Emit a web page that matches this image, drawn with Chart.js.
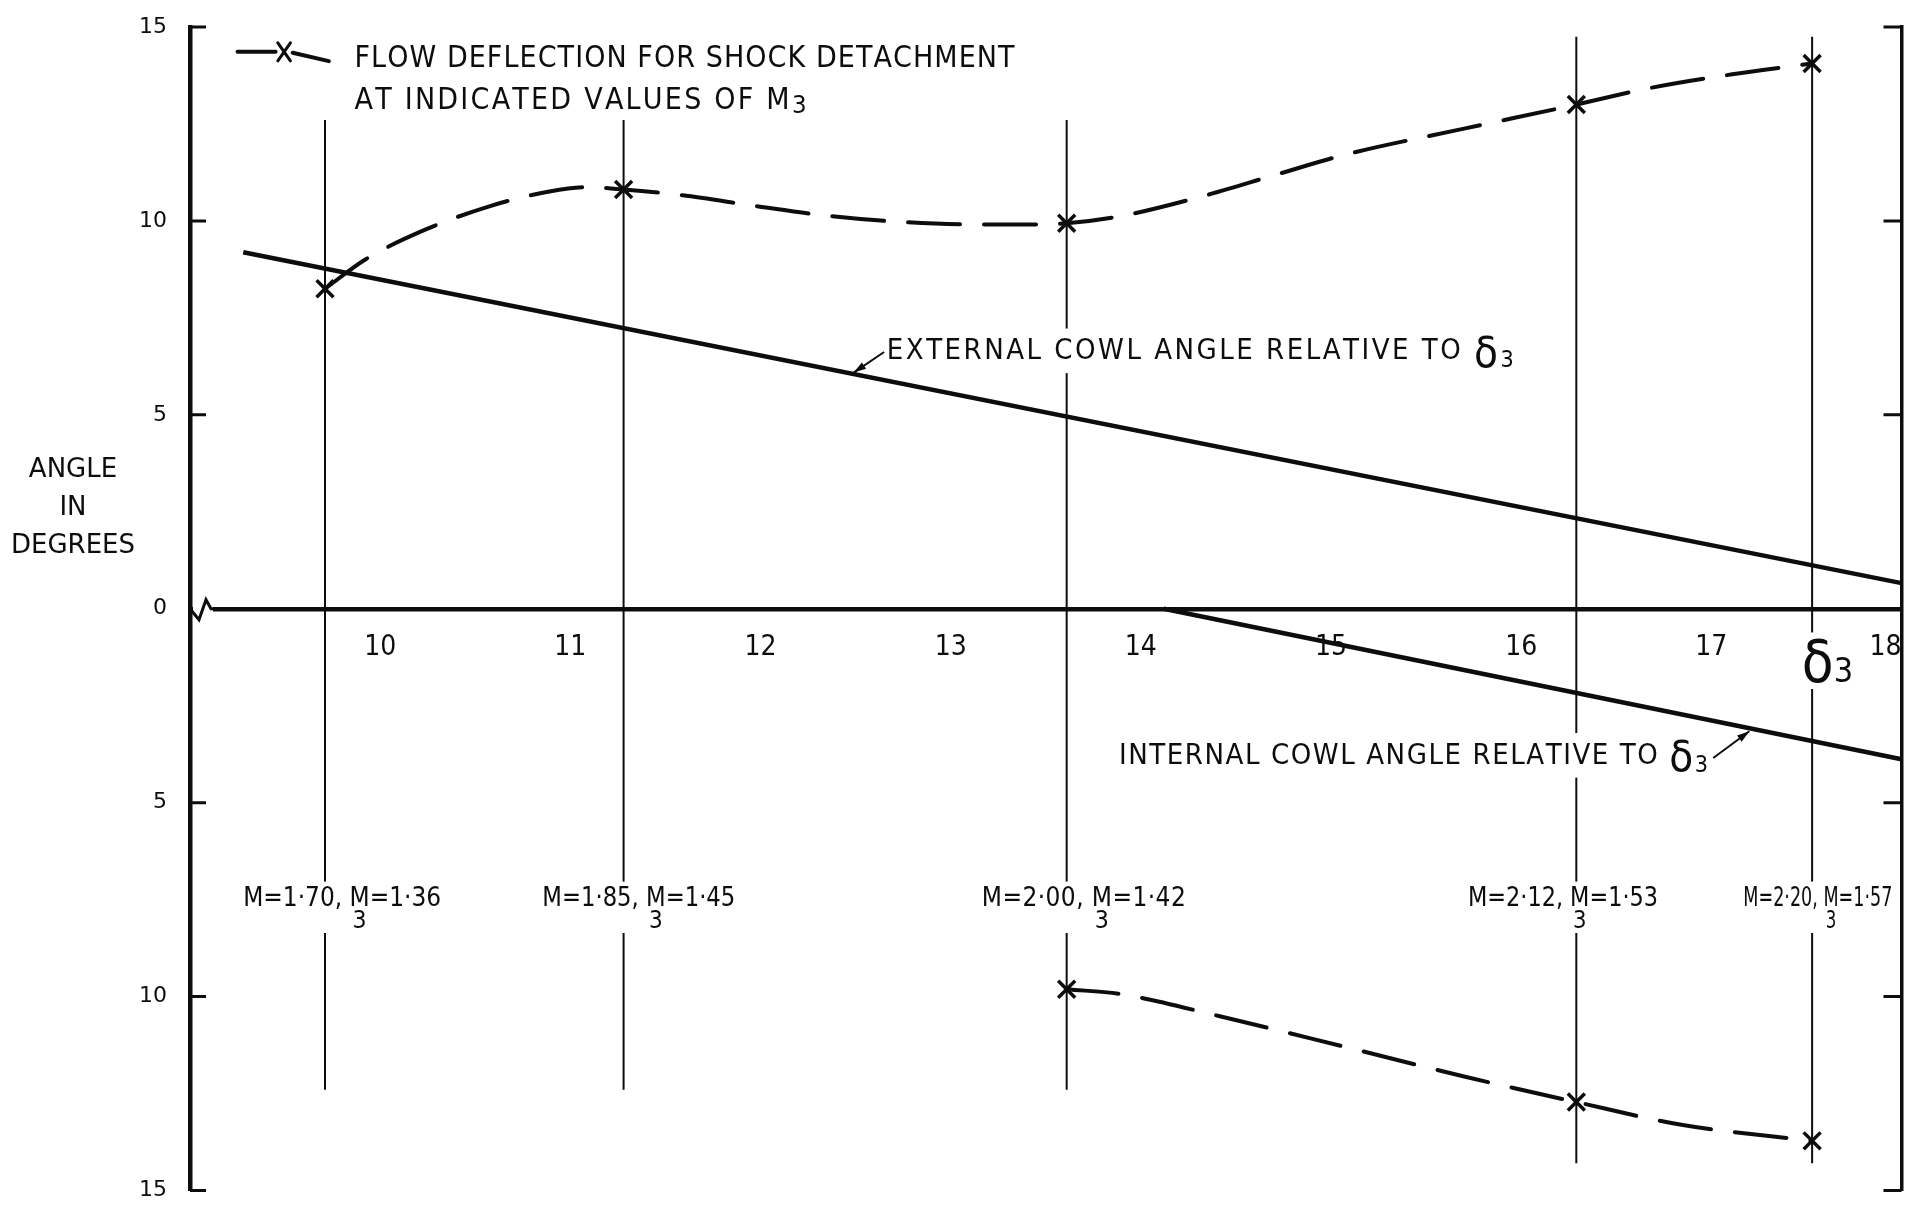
<!DOCTYPE html>
<html lang="en">
<head>
<meta charset="UTF-8" />
<title>Cowl angles and flow deflection for shock detachment</title>
<script src="https://cdn.jsdelivr.net/npm/chart.js"></script>
<style>
  html, body { margin: 0; padding: 0; background: #fff; overflow: hidden; }
  #wrap { width: 1917px; height: 1206px; }
</style>
</head>
<body>
<div id="wrap"><canvas id="chart"></canvas></div>
<script>
// ---- values (x = horizontal scale, y = angle in degrees, below axis negative) ----
const externalX = [9.28, 18.0];
const externalY = [9.19, 0.66];

const internalX = [14.12, 18.0];
const internalY = [0.0, -3.88];

// stations where the shock detachment was worked out
const stationX = [9.71, 11.28, 13.61, 16.29, 17.53];
const stationTop = [12.6, 12.6, 12.6, 14.75, 14.75];
const stationBottom = [-12.4, -12.4, -12.4, -14.3, -14.3];
const machFree = ['1·70', '1·85', '2·00', '2·12', '2·20'];
const machM3 = ['1·36', '1·45', '1·42', '1·53', '1·57'];

// x marks: flow deflection for shock detachment
const upperMarkY = [8.25, 10.81, 9.94, 13.0, 14.06];
const lowerMarkX = [13.61, 16.29, 17.53];
const lowerMarkY = [-9.81, -12.72, -13.72];

// dashed curves through the marks
const upperCurveX = [9.71, 9.92, 10.24, 10.57, 10.89, 11.08, 11.28, 11.59, 11.98, 12.36, 12.75, 13.13, 13.45, 13.61, 13.90, 14.29, 14.73, 15.06, 15.70, 16.29, 16.66, 17.11, 17.53];
const upperCurveY = [8.25, 9.0, 9.78, 10.37, 10.76, 10.87, 10.81, 10.66, 10.38, 10.13, 9.97, 9.91, 9.91, 9.94, 10.13, 10.59, 11.22, 11.69, 12.38, 13.0, 13.41, 13.78, 14.06];
const lowerCurveX = [13.61, 13.90, 14.41, 15.06, 15.70, 16.29, 16.85, 17.53];
const lowerCurveY = [-9.81, -9.94, -10.5, -11.28, -12.06, -12.72, -13.31, -13.72];

const xMin = 9, xMax = 18, yMin = -15, yMax = 15, yStep = 5;

// ---- styling ----
const INK = '#0d0d0d';
const LETTER = "'Liberation Sans Narrow', 'DejaVu Sans Condensed', 'DejaVu Sans', sans-serif";
const ROUND = "'DejaVu Sans', sans-serif";

const stationLabelX = [9.80, 11.36, 13.70, 16.22, 17.56];
const stationLabelW = [198, 193, 204, 190, 149];
const stationLabelY = -7.42;

const notes = [
  { parts: [['FLOW DEFLECTION FOR SHOCK DETACHMENT']], x: 9.865, y: 14.26, size: 30, width: 660 },
  { parts: [['AT INDICATED VALUES OF M'], ['3', 'sub']], x: 9.865, y: 13.18, size: 30, width: 452, subScale: 0.85, subDrop: 0.22 },
  { parts: [['EXTERNAL COWL ANGLE RELATIVE TO '], ['δ', 'greek'], ['3', 'sub']], x: 12.664, y: 6.71, size: 29, width: 627, bg: true },
  { parts: [['INTERNAL COWL ANGLE RELATIVE TO '], ['δ', 'greek'], ['3', 'sub']], x: 13.885, y: -3.72, size: 29, width: 589, bg: true },
  { parts: [['δ', 'greek'], ['3', 'sub']], x: 17.476, y: -1.27, size: 34, greekScale: 1.7, subScale: 1.0, subDrop: 0.35, bg: true }
];

const arrows = [
  { from: [12.65, 6.62], to: [12.49, 6.09] },
  { from: [17.01, -3.85], to: [17.20, -3.16] }
];

const zip = (xs, ys) => xs.map((x, i) => ({ x, y: ys[i] }));

// lettering: glyphs spread (or squeezed) to a given width; 'sub' is a subscript,
// 'under' is a small figure set below the previous letter. py is the centre of the capitals.
function drawNote(ctx, n, px, py) {
  const s = n.size;
  const glyphs = [];
  n.parts.forEach(([text, kind]) => {
    let size = s, dy = 0;
    if (kind === 'sub' || kind === 'under') { size = s * (n.subScale || 0.8); dy = s * (n.subDrop ?? 0.35); }
    if (kind === 'greek') { size = s * (n.greekScale || 1.5); dy = s * 0.08; }
    const font = `${size}px ${LETTER}`;
    ctx.font = font;
    for (const ch of text) glyphs.push({ ch, font, dy, size, under: kind === 'under', w: ctx.measureText(ch).width });
  });
  const flow = glyphs.filter(g => !g.under);
  const raw = flow.reduce((a, g) => a + g.w, 0);
  let gap = 0, sx = 1;
  if (n.width && flow.length > 1) {
    gap = (n.width - raw) / (flow.length - 1);
    if (gap < 0) { gap = 0; sx = n.width / raw; }
  }
  const total = n.width || raw;
  const x0 = n.align === 'center' ? px - total / 2 : px;
  ctx.save();
  if (n.bg) {
    const top = Math.min(...glyphs.map(g => g.dy - g.size * 0.42));
    const bot = Math.max(...glyphs.map(g => g.dy + g.size * 0.42));
    ctx.fillStyle = '#fff';
    ctx.fillRect(x0 - 6, py + top - 4, total + 12, bot - top + 8);
  }
  ctx.fillStyle = INK;
  ctx.textBaseline = 'alphabetic';
  ctx.textAlign = 'left';
  let cx = x0, lastX = x0, lastW = 0;
  glyphs.forEach(g => {
    ctx.font = g.font;
    const gx = g.under ? lastX + (lastW - g.w * sx) / 2 : cx;
    ctx.save();
    ctx.translate(gx, py + g.dy + g.size * 0.365);
    ctx.scale(sx, 1);
    ctx.fillText(g.ch, 0, 0);
    ctx.restore();
    if (!g.under) {
      lastX = cx; lastW = g.w * sx;
      cx += g.w * sx + gap;
    }
  });
  ctx.restore();
}

function drawCross(ctx, x, y, r) {
  ctx.beginPath();
  ctx.moveTo(x - r * 0.7, y - r);
  ctx.lineTo(x + r * 0.7, y + r);
  ctx.moveTo(x + r * 0.7, y - r);
  ctx.lineTo(x - r * 0.7, y + r);
  ctx.stroke();
}

const annotate = {
  id: 'annotate',
  afterDatasetsDraw(chart) {
    const { ctx, scales: { x, y } } = chart;
    notes.forEach(n => drawNote(ctx, n, x.getPixelForValue(n.x), y.getPixelForValue(n.y)));
    stationX.forEach((sx, i) => {
      drawNote(ctx, {
        parts: [[`M=${machFree[i]}, M`], ['3', 'under'], [`=${machM3[i]}`]],
        size: 26, subScale: 0.95, subDrop: 0.85, width: stationLabelW[i], align: 'center', bg: true
      }, x.getPixelForValue(stationLabelX[i]), y.getPixelForValue(stationLabelY));
    });

    ctx.save();
    ctx.strokeStyle = INK;
    ctx.fillStyle = INK;
    ctx.lineWidth = 2;
    arrows.forEach(a => {
      const x1 = x.getPixelForValue(a.from[0]), y1 = y.getPixelForValue(a.from[1]);
      const x2 = x.getPixelForValue(a.to[0]), y2 = y.getPixelForValue(a.to[1]);
      const ang = Math.atan2(y2 - y1, x2 - x1);
      ctx.beginPath();
      ctx.moveTo(x1, y1);
      ctx.lineTo(x2, y2);
      ctx.stroke();
      ctx.beginPath();
      ctx.moveTo(x2, y2);
      ctx.lineTo(x2 - 13 * Math.cos(ang - 0.3), y2 - 13 * Math.sin(ang - 0.3));
      ctx.lineTo(x2 - 13 * Math.cos(ang + 0.3), y2 - 13 * Math.sin(ang + 0.3));
      ctx.closePath();
      ctx.fill();
    });
    ctx.restore();
  },
  afterDraw(chart) {
    const { ctx, chartArea: area, scales: { x, y } } = chart;
    ctx.save();
    ctx.strokeStyle = INK;

    // tick marks pointing into the plot on both sides
    ctx.lineWidth = 3;
    for (let v = yMin; v <= yMax; v += yStep) {
      if (v === 0) continue;
      const py = y.getPixelForValue(v);
      ctx.beginPath();
      ctx.moveTo(area.left, py); ctx.lineTo(area.left + 16, py);
      ctx.moveTo(area.right, py); ctx.lineTo(area.right - 18, py);
      ctx.stroke();
    }

    // break symbol at the start of the zero line
    const y0 = y.getPixelForValue(0);
    ctx.fillStyle = '#fff';
    ctx.fillRect(area.left + 3, y0 - 4, 20, 8);
    ctx.lineWidth = 3;
    ctx.beginPath();
    ctx.moveTo(area.left, y0);
    ctx.lineTo(area.left + 9, y0 + 11);
    ctx.lineTo(area.left + 16, y0 - 9);
    ctx.lineTo(area.left + 21, y0);
    ctx.lineTo(area.left + 24, y0);
    ctx.stroke();

    // legend key
    const ky = y.getPixelForValue(14.36);
    ctx.lineWidth = 4;
    ctx.lineCap = 'round';
    ctx.beginPath();
    ctx.moveTo(x.getPixelForValue(9.25), ky);
    ctx.lineTo(x.getPixelForValue(9.45), ky);
    ctx.moveTo(x.getPixelForValue(9.54), ky + 1);
    ctx.lineTo(x.getPixelForValue(9.73), y.getPixelForValue(14.12));
    ctx.stroke();
    ctx.lineWidth = 3;
    drawCross(ctx, x.getPixelForValue(9.495), ky, 9);

    // axis title
    ctx.fillStyle = INK;
    ctx.font = `26px ${ROUND}`;
    ctx.textAlign = 'center';
    ctx.textBaseline = 'middle';
    const ty = y.getPixelForValue(2.6);
    ['ANGLE', 'IN', 'DEGREES'].forEach((t, i) => ctx.fillText(t, 73, ty + (i - 1) * 38));
    ctx.restore();
  }
};

const datasets = [];
stationX.forEach((sx, i) => datasets.push({
  label: 'station ' + (i + 1),
  data: [{ x: sx, y: stationTop[i] }, { x: sx, y: stationBottom[i] }],
  borderColor: INK, borderWidth: 2, pointRadius: 0
}));
datasets.push({
  label: 'External cowl angle relative to δ3',
  data: zip(externalX, externalY),
  borderColor: INK, borderWidth: 4.5, pointRadius: 0
});
datasets.push({
  label: 'Internal cowl angle relative to δ3',
  data: zip(internalX, internalY),
  borderColor: INK, borderWidth: 4.5, pointRadius: 0
});
datasets.push({
  label: 'Flow deflection (upper)',
  data: zip(upperCurveX, upperCurveY),
  borderColor: INK, borderWidth: 4, borderDash: [52, 24], borderCapStyle: 'round',
  cubicInterpolationMode: 'monotone', pointRadius: 0
});
datasets.push({
  label: 'Flow deflection (lower)',
  data: zip(lowerCurveX, lowerCurveY),
  borderColor: INK, borderWidth: 4, borderDash: [52, 24], borderCapStyle: 'round',
  cubicInterpolationMode: 'monotone', pointRadius: 0
});
datasets.push({
  label: 'Shock detachment',
  data: zip(stationX, upperMarkY).concat(zip(lowerMarkX, lowerMarkY)),
  showLine: false, pointStyle: 'crossRot', pointRadius: 12,
  pointBorderWidth: 3.5, pointBorderColor: INK, pointBackgroundColor: INK
});

new Chart(document.getElementById('chart'), {
  type: 'line',
  data: { datasets },
  options: {
    responsive: true,
    maintainAspectRatio: false,
    animation: false,
    events: [],
    layout: { padding: { left: 0, top: 27, right: 10, bottom: 6 } },
    plugins: { legend: { display: false }, tooltip: { enabled: false } },
    scales: {
      x: {
        type: 'linear', min: xMin, max: xMax,
        position: { y: 0 },
        grid: { display: false },
        border: { color: INK, width: 4.5 },
        ticks: {
          stepSize: 1, autoSkip: false, align: 'inner', padding: 14,
          color: INK, font: { family: LETTER, size: 28 },
          callback: v => (v === xMin ? '' : String(v))
        },
        afterFit: s => { s.height = 0; s.paddingLeft = 0; s.paddingRight = 0; }
      },
      y: {
        type: 'linear', min: yMin, max: yMax, position: 'left',
        grid: { display: false },
        border: { color: INK, width: 4.5 },
        ticks: {
          stepSize: yStep, padding: 15, color: INK,
          font: { family: ROUND, size: 22 },
          callback: v => String(Math.abs(v))
        },
        afterFit: s => { s.width = 190; s.paddingTop = 0; s.paddingBottom = 0; }
      },
      y2: {
        type: 'linear', min: yMin, max: yMax, position: 'right',
        grid: { display: false },
        border: { color: INK, width: 3.5 },
        ticks: { display: false },
        afterFit: s => { s.width = 0; s.paddingTop = 0; s.paddingBottom = 0; }
      }
    }
  },
  plugins: [annotate]
});
</script>
</body>
</html>
